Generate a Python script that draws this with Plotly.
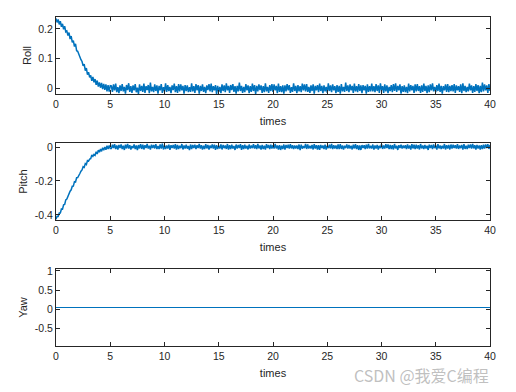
import plotly.graph_objects as go

# ---------------- data ----------------
t_step = 0.1  # sampling interval (s)

roll = [
    0.235, 0.222, 0.232, 0.215, 0.226, 0.207, 0.217, 0.199, 0.209, 0.190,
    0.193, 0.178, 0.188, 0.166, 0.176, 0.155, 0.161, 0.141, 0.150, 0.127,
    0.125, 0.113, 0.107, 0.097, 0.091, 0.076, 0.082, 0.060, 0.069, 0.047,
    0.055, 0.038, 0.044, 0.026, 0.039, 0.021, 0.032, 0.013, 0.027, 0.007,
    0.021, 0.003, 0.019, -0.002, 0.016, -0.004, 0.014, -0.009, 0.012, -0.010,
    0.010,
    0.009, -0.011, 0.014, -0.006, 0.017, -0.012, 0.005, -0.015, 0.011, -0.008,
    0.015, -0.009, 0.006, -0.017, 0.012, -0.005, 0.018, -0.011, 0.008, -0.014,
    0.011, -0.006, 0.015, -0.012, 0.003, -0.018, 0.014, -0.008, 0.009, -0.011,
    0.017, -0.014, 0.008, -0.005, 0.012, -0.015, 0.020, -0.009, 0.006, -0.012,
    0.014, -0.008, 0.011, -0.017, 0.009, -0.006, 0.015, -0.014, 0.005, -0.009,
    0.018, -0.011, 0.012, -0.008, 0.006, -0.015, 0.011, -0.005, 0.017, -0.012,
    0.008, -0.014, 0.015, -0.009, 0.014, -0.006, 0.009, -0.017, 0.012, -0.008,
    0.011, -0.012, 0.005, -0.011, 0.018, -0.009, 0.008, -0.014, 0.015, -0.006,
    0.012, -0.017, 0.009, -0.008, 0.014, -0.011, 0.006, -0.015, 0.011, -0.005,
    0.015, -0.009, 0.017, -0.012, 0.008, -0.006, 0.012, -0.018, 0.009, -0.011,
    0.006, -0.015, 0.014, -0.008, 0.011, -0.012, 0.018, -0.006, 0.009, -0.014,
    0.012, -0.005, 0.015, -0.011, 0.008, -0.017, 0.009, -0.009, 0.020, -0.008,
    0.009, -0.014, 0.006, -0.012, 0.015, -0.006, 0.011, -0.015, 0.008, -0.011,
    0.017, -0.008, 0.012, -0.018, 0.009, -0.009, 0.014, -0.005, 0.011, -0.014,
    0.008, -0.012, 0.018, -0.009, 0.006, -0.014, 0.012, -0.008, 0.015, -0.011,
    0.014, -0.006, 0.009, -0.015, 0.017, -0.011, 0.008, -0.012, 0.011, -0.017,
    0.011, -0.009, 0.015, -0.006, 0.012, -0.014, 0.005, -0.011, 0.018, -0.008,
    0.009, -0.015, 0.012, -0.009, 0.008, -0.012, 0.017, -0.006, 0.014, -0.009,
    0.015, -0.011, 0.006, -0.014, 0.011, -0.008, 0.014, -0.017, 0.009, -0.006,
    0.012, -0.012, 0.017, -0.008, 0.009, -0.015, 0.011, -0.009, 0.006, -0.014,
    0.018, -0.008, 0.011, -0.012, 0.014, -0.006, 0.008, -0.015, 0.012, -0.011,
    0.009, -0.017, 0.015, -0.009, 0.006, -0.011, 0.020, -0.008, 0.011, -0.012,
    0.014, -0.006, 0.009, -0.014, 0.017, -0.009, 0.008, -0.012, 0.015, -0.008,
    0.011, -0.015, 0.012, -0.006, 0.009, -0.017, 0.014, -0.011, 0.008, -0.009,
    0.017, -0.009, 0.008, -0.012, 0.015, -0.008, 0.011, -0.014, 0.018, -0.006,
    0.008, -0.014, 0.014, -0.009, 0.011, -0.015, 0.006, -0.008, 0.012, -0.012,
    0.015, -0.008, 0.018, -0.011, 0.009, -0.006, 0.014, -0.017, 0.008, -0.011,
    0.011, -0.012, 0.006, -0.015, 0.017, -0.009, 0.012, -0.006, 0.009, -0.014,
    0.014, -0.009, 0.015, -0.008, 0.008, -0.014, 0.011, -0.011, 0.017, -0.008,
    0.009, -0.015, 0.011, -0.012, 0.014, -0.006, 0.018, -0.009, 0.006, -0.012,
    0.012, -0.008, 0.017, -0.011, 0.009, -0.017, 0.008, -0.006, 0.014, -0.011,
    0.015, -0.012, 0.009, -0.008, 0.012, -0.009, 0.015, -0.014, 0.011, -0.006,
    0.008, -0.011, 0.014, -0.015, 0.018, -0.008, 0.009, -0.012, 0.006, -0.009,
    0.017, -0.006, 0.011, -0.014, 0.008, -0.011, 0.015, -0.008, 0.012, -0.015,
    0.009, -0.012, 0.020, -0.009, 0.014, -0.006, 0.011, -0.014, 0.015, -0.008,
]

pitch = [
    -0.426, -0.408, -0.409, -0.389, -0.389, -0.365, -0.366, -0.340, -0.338, -0.311,
    -0.306, -0.286, -0.278, -0.260, -0.252, -0.231, -0.230, -0.204, -0.206, -0.181,
    -0.180, -0.163, -0.156, -0.142, -0.135, -0.116, -0.120, -0.097, -0.103, -0.080,
    -0.083, -0.071, -0.068, -0.046, -0.055, -0.043, -0.049, -0.028, -0.041, -0.018,
    -0.030, -0.012, -0.025, -0.004, -0.019, 0.000, -0.016, 0.008, -0.012, 0.010,
    -0.009,
    -0.009, 0.014, -0.006, 0.017, -0.012, 0.009, -0.015, 0.012, -0.005, 0.015,
    -0.011, 0.008, -0.017, 0.014, -0.008, 0.018, -0.009, 0.011, -0.014, 0.006,
    -0.006, 0.015, -0.012, 0.009, -0.018, 0.012, -0.008, 0.017, -0.011, 0.014,
    -0.014, 0.011, -0.005, 0.018, -0.009, 0.008, -0.015, 0.014, -0.006, 0.012,
    -0.008, 0.017, -0.012, 0.006, -0.011, 0.015, -0.009, 0.020, -0.014, 0.009,
    -0.012, 0.009, -0.008, 0.014, -0.017, 0.011, -0.006, 0.012, -0.009, 0.017,
    -0.015, 0.012, -0.011, 0.008, -0.006, 0.018, -0.014, 0.009, -0.008, 0.014,
    -0.009, 0.006, -0.018, 0.015, -0.011, 0.012, -0.005, 0.014, -0.012, 0.011,
    -0.006, 0.018, -0.009, 0.011, -0.015, 0.008, -0.012, 0.017, -0.008, 0.012,
    -0.014, 0.009, -0.006, 0.015, -0.009, 0.014, -0.017, 0.011, -0.011, 0.008,
    -0.008, 0.015, -0.014, 0.012, -0.006, 0.009, -0.011, 0.018, -0.015, 0.011,
    -0.011, 0.014, -0.008, 0.006, -0.017, 0.015, -0.009, 0.012, -0.006, 0.017,
    -0.017, 0.011, -0.012, 0.014, -0.008, 0.008, -0.014, 0.015, -0.009, 0.009,
    -0.006, 0.017, -0.009, 0.011, -0.012, 0.018, -0.008, 0.009, -0.015, 0.012,
    -0.012, 0.008, -0.015, 0.017, -0.006, 0.012, -0.011, 0.014, -0.008, 0.011,
    -0.009, 0.018, -0.008, 0.009, -0.014, 0.011, -0.017, 0.008, -0.011, 0.015,
    -0.015, 0.012, -0.006, 0.014, -0.009, 0.017, -0.008, 0.011, -0.012, 0.009,
    -0.008, 0.009, -0.012, 0.015, -0.018, 0.014, -0.009, 0.006, -0.006, 0.018,
    -0.011, 0.015, -0.009, 0.008, -0.008, 0.012, -0.014, 0.017, -0.009, 0.011,
    -0.014, 0.011, -0.017, 0.012, -0.006, 0.009, -0.011, 0.014, -0.015, 0.008,
    -0.006, 0.014, -0.008, 0.018, -0.012, 0.011, -0.008, 0.009, -0.011, 0.015,
    -0.012, 0.017, -0.011, 0.009, -0.015, 0.008, -0.006, 0.015, -0.009, 0.012,
    -0.009, 0.008, -0.014, 0.014, -0.008, 0.017, -0.012, 0.011, -0.017, 0.009,
    -0.017, 0.012, -0.006, 0.011, -0.011, 0.014, -0.009, 0.018, -0.008, 0.008,
    -0.008, 0.015, -0.015, 0.009, -0.009, 0.012, -0.014, 0.008, -0.006, 0.017,
    -0.011, 0.009, -0.009, 0.017, -0.006, 0.015, -0.011, 0.012, -0.012, 0.011,
    -0.014, 0.018, -0.008, 0.008, -0.017, 0.011, -0.006, 0.014, -0.009, 0.009,
    -0.006, 0.011, -0.012, 0.015, -0.009, 0.009, -0.015, 0.017, -0.008, 0.014,
    -0.012, 0.014, -0.009, 0.011, -0.014, 0.018, -0.008, 0.009, -0.011, 0.012,
    -0.009, 0.008, -0.017, 0.014, -0.006, 0.012, -0.012, 0.015, -0.006, 0.009,
    -0.015, 0.017, -0.008, 0.009, -0.011, 0.008, -0.009, 0.018, -0.014, 0.011,
    -0.008, 0.012, -0.014, 0.015, -0.008, 0.014, -0.006, 0.011, -0.009, 0.017,
    -0.011, 0.009, -0.006, 0.012, -0.015, 0.017, -0.011, 0.008, -0.012, 0.014,
    -0.006, 0.015, -0.009, 0.018, -0.008, 0.011, -0.014, 0.012, -0.008, 0.009,
    -0.014, 0.011, -0.011, 0.014, -0.009, 0.015, -0.006, 0.017, -0.011, 0.012,
]

yaw_t = [0, 40]
yaw = [0.05, 0.05]

x_ticks = [0, 5, 10, 15, 20, 25, 30, 35, 40]
roll_ticks = [0, 0.1, 0.2]
roll_ticktext = ["0", "0.1", "0.2"]
pitch_ticks = [-0.4, -0.2, 0]
pitch_ticktext = ["-0.4", "-0.2", "0"]
yaw_ticks = [-0.5, 0, 0.5, 1]
yaw_ticktext = ["-0.5", "0", "0.5", "1"]

# ---------------- figure ----------------
LINE = "#0072BD"
AX = "#262626"
FONT = "Arial, Liberation Sans, sans-serif"

fig = go.Figure()
fig.add_trace(go.Scatter(y=roll, x0=0, dx=t_step, mode="lines",
                         line=dict(color=LINE, width=1.5), xaxis="x", yaxis="y"))
fig.add_trace(go.Scatter(y=pitch, x0=0, dx=t_step, mode="lines",
                         line=dict(color=LINE, width=1.5), xaxis="x2", yaxis="y2"))
fig.add_trace(go.Scatter(x=yaw_t, y=yaw, mode="lines",
                         line=dict(color=LINE, width=1.2), xaxis="x3", yaxis="y3"))

def xax(anchor):
    return dict(anchor=anchor, range=[0, 40], tickvals=x_ticks,
                showline=True, mirror="allticks", linecolor=AX, linewidth=1,
                ticks="inside", ticklen=4, tickcolor=AX, showgrid=False,
                zeroline=False, tickfont=dict(family=FONT, size=10.5, color=AX),
                title=dict(text="times", font=dict(family=FONT, size=11, color=AX),
                           standoff=8),
                automargin=False)

def yax(anchor, domain, rng, tv, tt, title):
    return dict(anchor=anchor, domain=domain, range=rng, tickvals=tv, ticktext=tt,
                showline=True, mirror="allticks", linecolor=AX, linewidth=1,
                ticks="inside", ticklen=4, tickcolor=AX, showgrid=False,
                zeroline=False, tickfont=dict(family=FONT, size=10.5, color=AX),
                title=dict(text=title, font=dict(family=FONT, size=11, color=AX),
                           standoff=4),
                automargin=False)

fig.update_layout(
    width=516, height=392,
    margin=dict(l=56, r=26, t=17, b=46),
    paper_bgcolor="white", plot_bgcolor="white",
    showlegend=False,
    xaxis=xax("y"),
    xaxis2=xax("y2"),
    xaxis3=xax("y3"),
    yaxis=yax("x", [0.766, 1.0], [-0.018, 0.24], roll_ticks, roll_ticktext, "Roll"),
    yaxis2=yax("x2", [0.383, 0.617], [-0.43, 0.024], pitch_ticks, pitch_ticktext, "Pitch"),
    yaxis3=yax("x3", [0.0, 0.234], [-0.95, 1.05], yaw_ticks, yaw_ticktext, "Yaw"),
    annotations=[dict(text="CSDN @我爱C编程", xref="paper", yref="paper",
                      x=0.843, y=-0.088, xanchor="center", yanchor="middle",
                      showarrow=False,
                      font=dict(family="Noto Sans CJK SC, Arial", size=16,
                                color="rgba(175,175,175,0.8)"))],
)

fig.write_html("out.html", config={"displayModeBar": False},
               post_script="document.body.style.margin='0';")
